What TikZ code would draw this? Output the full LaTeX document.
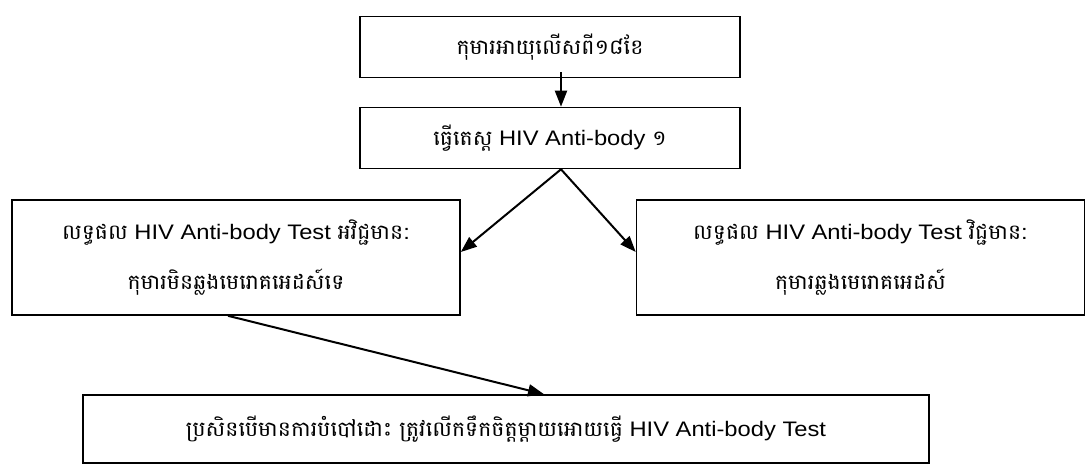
\documentclass[tikz,border=0pt]{standalone}
\usepackage{fontspec}
\setmainfont{Liberation Sans}[FakeStretch=1.13]
\newfontfamily\khmerfont[Script=Khmer,FakeStretch=1.05]{Battambang}
\usepackage{tikz}
\usetikzlibrary{shapes,arrows,arrows.meta,positioning}

\begin{document}
\begin{tikzpicture}[x=1pt, y=-1pt]
			\tikzstyle{Box}		= [rectangle, draw, line width=1.6pt, inner sep=0pt, align=center, font=\fontsize{21}{25}\selectfont]
			\tikzstyle{Wide}	= [minimum width=380pt, minimum height=61pt]
			\tikzstyle{Half}	= [minimum width=448pt, minimum height=115pt]
			\tikzstyle{Last}	= [minimum width=846pt, minimum height=68pt]
			\tikzstyle{Arr}		= [-{Triangle[length=16pt, width=12pt]}, line width=2pt]

			\useasboundingbox (0, 0) rectangle (1086, 465);

			\node (age) at (550, 47) [Box][Wide] {\khmerfont កុមារអាយុលើសពី១៨ខែ};
			\node (test) at (550, 138) [Box][Wide] {{\khmerfont ធ្វើតេស្ត} HIV Anti-body {\khmerfont ១}};
			\node (neg) at (236, 257.5) [Box][Half] {{\khmerfont លទ្ធផល} HIV Anti-body Test {\khmerfont អវិជ្ជមាន}:\\[22pt]{\khmerfont កុមារមិនឆ្លងមេរោគអេដស៍ទេ}};
			\node (pos) at (860.5, 257.5) [Box][Half] {{\khmerfont លទ្ធផល} HIV Anti-body Test {\khmerfont វិជ្ជមាន}:\\[22pt]{\khmerfont កុមារឆ្លងមេរោគអេដស៍}};
			\node (feed) at (506, 429) [Box][Last] {{\khmerfont ប្រសិនបើមានការបំបៅដោះ ត្រូវលើកទឹកចិត្តម្តាយអោយធ្វើ} HIV Anti-body Test};

			\draw ([xshift=11pt, yshift=6pt]age.south) to ([xshift=11pt]test.north) [Arr];
			\draw ([xshift=11pt]test.south) to ([yshift=5.5pt]neg.east) [Arr];
			\draw ([xshift=11pt]test.south) to ([yshift=5.5pt]pos.west) [Arr];
			\draw ([xshift=-8pt]neg.south) to ([xshift=38pt]feed.north) [Arr];
		\end{tikzpicture}
\end{document}
